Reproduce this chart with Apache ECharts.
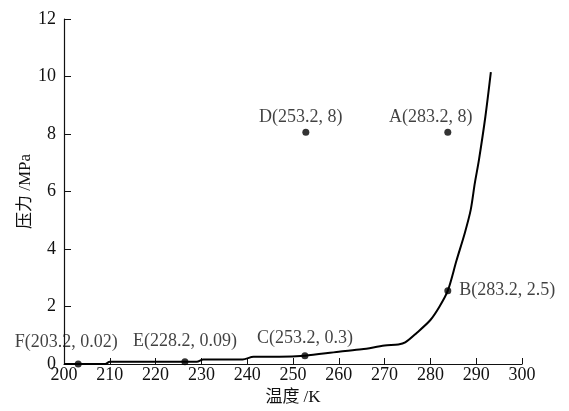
<!DOCTYPE html>
<html>
<head>
<meta charset="utf-8">
<script src="https://cdn.jsdelivr.net/npm/echarts@6/dist/echarts.min.js"></script>
<style>
  html, body { margin: 0; padding: 0; background: #fff; }
  #main { width: 569px; height: 411px; }
</style>
</head>
<body>
<div id="main"></div>
<script>
// 温度 (K) / 压力 (MPa) 曲线
var curveT = [200, 209, 210, 229, 230.4, 239, 241.4, 247, 252.6, 260, 265, 270, 273, 274.5, 277, 280, 282, 283.8, 285.7, 287.5, 288.8, 289.7, 290.6, 292.0, 293.2];
var curveP = [0, 0, 0.08, 0.08, 0.16, 0.16, 0.25, 0.25, 0.29, 0.43, 0.51, 0.64, 0.68, 0.75, 1.08, 1.53, 2.0, 2.55, 3.6, 4.55, 5.36, 6.29, 7.1, 8.6, 10.15];

// 标注点
var ptNames = ['F', 'E', 'C', 'D', 'A', 'B'];
var ptT = [203.1, 226.4, 252.6, 252.8, 283.8, 283.8];
var ptP = [0, 0.08, 0.29, 8.06, 8.06, 2.55];
var ptLabels = ['F(203.2, 0.02)', 'E(228.2, 0.09)', 'C(253.2, 0.3)', 'D(253.2, 8)', 'A(283.2, 8)', 'B(283.2, 2.5)'];

var xTicks = [200, 210, 220, 230, 240, 250, 260, 270, 280, 290, 300];
var yTicks = [0, 2, 4, 6, 8, 10, 12];

var font = "'Liberation Serif', 'Noto Sans CJK SC', serif";

var labelPos = {
  F: { position: 'top', offset: [-12, -4] },
  E: { position: 'top', offset: [0, -3] },
  C: { position: 'top', offset: [0, 0] },
  D: { position: 'top', offset: [-5, 2] },
  A: { position: 'top', offset: [-17, 2] },
  B: { position: 'right', offset: [3, 0] }
};

var curveData = [];
for (var i = 0; i < curveT.length; i++) curveData.push([curveT[i], curveP[i]]);

var pointData = [];
for (var j = 0; j < ptNames.length; j++) {
  var lp = labelPos[ptNames[j]];
  pointData.push({
    value: [ptT[j], ptP[j]],
    label: {
      show: true,
      formatter: ptLabels[j],
      position: lp.position,
      offset: lp.offset,
      color: '#111',
      fontSize: 18,
      fontFamily: font
    }
  });
}

var chart = echarts.init(document.getElementById('main'));
chart.setOption({
  animation: false,
  backgroundColor: '#fff',
  grid: { left: 64, right: 47, top: 19, bottom: 47, outerBoundsMode: 'none' },
  xAxis: {
    type: 'value',
    min: 200, max: 300, interval: 10,
    name: '温度 /K',
    nameLocation: 'middle',
    nameGap: 25,
    nameMoveOverlap: false,
    nameTextStyle: { color: '#111', fontSize: 17, fontFamily: font },
    axisLine: { show: true, lineStyle: { color: '#111', width: 1.2 } },
    axisTick: { show: true, inside: true, length: 6, lineStyle: { color: '#111' } },
    axisLabel: { color: '#111', fontSize: 18, fontFamily: font, margin: 2,
      formatter: function (v) { return xTicks.indexOf(v) >= 0 ? String(v) : ''; } },
    splitLine: { show: false }
  },
  yAxis: {
    type: 'value',
    min: 0, max: 12, interval: 2,
    name: '压力 /MPa',
    nameLocation: 'middle',
    nameGap: 30,
    nameMoveOverlap: false,
    nameTextStyle: { color: '#111', fontSize: 17, fontFamily: font },
    axisLine: { show: true, lineStyle: { color: '#111', width: 1.2 } },
    axisTick: { show: true, inside: true, length: 7, lineStyle: { color: '#111' } },
    axisLabel: { color: '#111', fontSize: 18, fontFamily: font, margin: 8,
      formatter: function (v) { return yTicks.indexOf(v) >= 0 ? String(v) : ''; } },
    splitLine: { show: false }
  },
  series: [
    {
      type: 'line',
      data: curveData,
      smooth: 0.3,
      showSymbol: false,
      lineStyle: { color: '#000', width: 2 },
      z: 2
    },
    {
      type: 'scatter',
      data: pointData,
      symbol: 'circle',
      symbolSize: 7,
      itemStyle: { color: '#000' },
      z: 3
    }
  ]
});
</script>
</body>
</html>
